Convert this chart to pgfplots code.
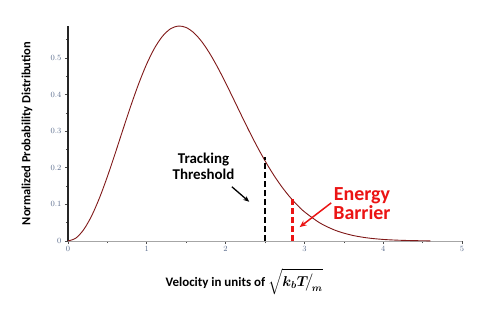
\documentclass[border=0pt]{standalone}
\usepackage{fontspec}
\usepackage{amsmath}
\usepackage{pgfplots}
\pgfplotsset{compat=1.18}
\usetikzlibrary{arrows.meta}
\newfontfamily\calibri{Carlito}
\definecolor{curvecol}{rgb}{0.5,0.1,0.1}
\definecolor{tickcol}{rgb}{0.35,0.42,0.55}
\definecolor{barrier}{rgb}{0.92,0.08,0.08}
\begin{document}
\begin{tikzpicture}
\useasboundingbox (-68bp,-71bp) rectangle (417bp,241bp);
\begin{axis}[
  scale only axis,
  width=394bp, height=215bp,
  xmin=0, xmax=5, ymin=0, ymax=0.587,
  axis x line*=bottom, axis y line*=left,
  x axis line style={draw=gray!70, line width=0.8bp},
  y axis line style={draw=black!85, line width=1.2bp},
  xtick={0,1,2,3,4,5},
  ytick={0,0.1,0.2,0.3,0.4,0.5},
  minor xtick={0.5,1.5,2.5,3.5,4.5},
  minor ytick={0.05,0.15,0.25,0.35,0.45,0.55},
  tick align=outside,
  major tick length=3bp, minor tick length=2bp,
  every tick/.style={draw=black!70, line width=0.6bp},
  x tick label style={yshift=1bp},
  tick label style={font=\fontsize{8}{9}\selectfont\addfontfeatures{Numbers=OldStyle}, text=tickcol},
  /pgf/number format/assume math mode=true,
  xlabel={\calibri\bfseries Velocity in units of {\boldmath\fontsize{14}{16}\selectfont$\sqrt{k_bT\!\big/_{\!m}}$}},
  xlabel style={at={(axis description cs:0.447,-0.19)}, anchor=center, font=\fontsize{13}{15}\selectfont},
  ylabel={\calibri\bfseries Normalized Probability Distribution},
  ylabel style={at={(axis description cs:-0.104,0.5)}, anchor=center, rotate=0, font=\fontsize{12.5}{14}\selectfont},
  clip=false,
]
\addplot[curvecol, line width=0.9bp, smooth] coordinates {
(0,0) (0.1,0.00794) (0.2,0.03128) (0.3,0.06865) (0.4,0.11784) (0.5,0.17603)
(0.6,0.23992) (0.7,0.30601) (0.8,0.37081) (0.9,0.43105) (1.0,0.48394)
(1.1,0.52719) (1.2,0.55925) (1.3,0.57922) (1.4,0.58693) (1.5,0.58283)
(1.6,0.56792) (1.7,0.54361) (1.8,0.51160) (1.9,0.47373) (2.0,0.43192)
(2.1,0.38793) (2.2,0.34338) (2.3,0.29968) (2.4,0.25796) (2.5,0.21912)
(2.6,0.18366) (2.7,0.15193) (2.8,0.12410) (2.9,0.10012) (3.0,0.07977)
(3.2,0.04882) (3.4,0.02849) (3.6,0.01586) (3.8,0.00843) (4.0,0.00428)
(4.2,0.00208) (4.4,0.00097) (4.6,0.00043)
};
\addplot[black, line width=2.6bp, dash pattern=on 6bp off 3bp] coordinates {(2.5,0) (2.5,0.23)};
\addplot[barrier, line width=2.6bp, dash pattern=on 6bp off 3bp] coordinates {(2.85,0) (2.85,0.117)};
\node[font=\calibri\bfseries\fontsize{15}{17}\selectfont, align=center] at (axis cs:1.72,0.205) {Tracking\\[-1pt]Threshold};
\draw[black, line width=1.3bp, -{Stealth[length=6bp,width=5bp]}] (axis cs:2.08,0.148) -- (axis cs:2.30,0.107);
\node[font=\calibri\bfseries\fontsize{20}{22}\selectfont, text=barrier, align=center] at (axis cs:3.73,0.103) {Energy\\[-3pt]Barrier};
\draw[barrier, line width=1.5bp, -{Stealth[length=7bp,width=6bp]}] (axis cs:3.34,0.104) -- (axis cs:2.94,0.038);
\end{axis}
\end{tikzpicture}
\end{document}
